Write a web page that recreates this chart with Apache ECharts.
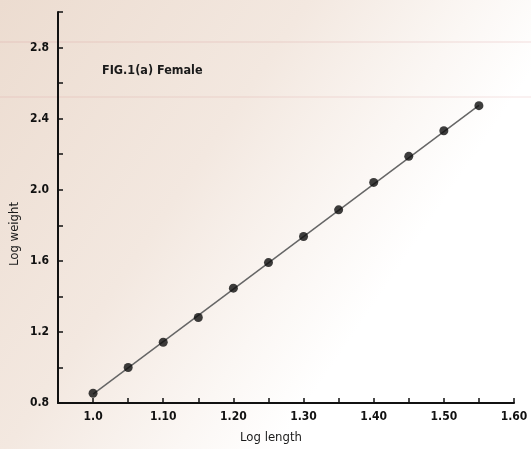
<!DOCTYPE html>
<html>
<head>
<meta charset="utf-8">
<script src="https://cdn.jsdelivr.net/npm/echarts@6/dist/echarts.min.js"></script>
<style>html,body{margin:0;padding:0;}#c{width:531px;height:449px;}</style>
</head>
<body>
<div id="c"></div>
<script>
// Data
var logLength = [1.00, 1.05, 1.10, 1.15, 1.20, 1.25, 1.30, 1.35, 1.40, 1.45, 1.50, 1.55];
var logWeight = [0.855, 1.00, 1.142, 1.281, 1.446, 1.59, 1.737, 1.887, 2.041, 2.188, 2.332, 2.473];
var fitX = [1.00, 1.55];
var fitY = [0.85, 2.475];
var title = "FIG.1(a) Female";
var xName = "Log length";
var yName = "Log weight";

var pts = logLength.map(function (x, i) { return [x, logWeight[i]]; });
var fit = fitX.map(function (x, i) { return [x, fitY[i]]; });

var font = "'DejaVu Sans Condensed','DejaVu Sans',sans-serif";
var chart = echarts.init(document.getElementById('c'));
chart.setOption({
  animation: false,
  backgroundColor: {
    type: 'linear', x: 0, y: 0, x2: 1, y2: 0.8,
    colorStops: [
      {offset: 0, color: '#ecdcd0'},
      {offset: 0.4, color: '#f3e8e0'},
      {offset: 0.62, color: '#fbf7f4'},
      {offset: 0.75, color: '#ffffff'},
      {offset: 1, color: '#ffffff'}
    ]
  },
  grid: {left: 58, right: 17, top: 12, bottom: 46, containLabel: false},
  graphic: [
    {type: 'rect', z: 0, silent: true, shape: {x: 0, y: 41, width: 531, height: 2}, style: {fill: 'rgba(214,140,140,0.14)'}},
    {type: 'rect', z: 0, silent: true, shape: {x: 0, y: 96, width: 531, height: 2}, style: {fill: 'rgba(214,140,140,0.12)'}},
    {type: 'text', left: 102, top: 64, style: {text: title, font: '600 12.5px ' + font, fill: '#1a1a1a'}},
    {type: 'text', x: 15, y: 234, rotation: Math.PI / 2, style: {text: yName, font: '13px ' + font, fill: '#1a1a1a', align: 'center', verticalAlign: 'middle'}},
    {type: 'text', x: 271, y: 438, style: {text: xName, font: '13px ' + font, fill: '#1a1a1a', align: 'center', verticalAlign: 'middle'}}
  ],
  xAxis: {
    type: 'value', min: 0.95, max: 1.60, interval: 0.05,
    axisLine: {show: true, onZero: false, lineStyle: {color: '#111', width: 2}},
    axisTick: {show: true, inside: true, length: 5, lineStyle: {color: '#111', width: 1.5}},
    splitLine: {show: false},
    axisLabel: {
      margin: 8, color: '#111', fontFamily: font, fontSize: 12, fontWeight: 'bold',
      formatter: function (v) {
        var k = Math.round(v * 100);
        if (k < 100 || k % 10 !== 0) return '';
        return k === 100 ? '1.0' : (k / 100).toFixed(2);
      }
    }
  },
  yAxis: {
    type: 'value', min: 0.8, max: 3.0, interval: 0.2,
    axisLine: {show: true, onZero: false, lineStyle: {color: '#111', width: 2}},
    axisTick: {show: true, inside: true, length: 5, lineStyle: {color: '#111', width: 1.5}},
    splitLine: {show: false},
    axisLabel: {
      margin: 9, color: '#111', fontFamily: font, fontSize: 12, fontWeight: 'bold',
      formatter: function (v) {
        var k = Math.round(v * 10);
        if (k % 4 !== 0 || k > 28) return '';
        return (k / 10).toFixed(1);
      }
    }
  },
  series: [
    {type: 'line', data: fit, symbol: 'none', lineStyle: {color: '#666', width: 1.5}, z: 2},
    {type: 'scatter', data: pts, symbol: 'circle', symbolSize: 9, itemStyle: {color: '#0d0d0d'}, z: 3}
  ]
});
</script>
</body>
</html>
